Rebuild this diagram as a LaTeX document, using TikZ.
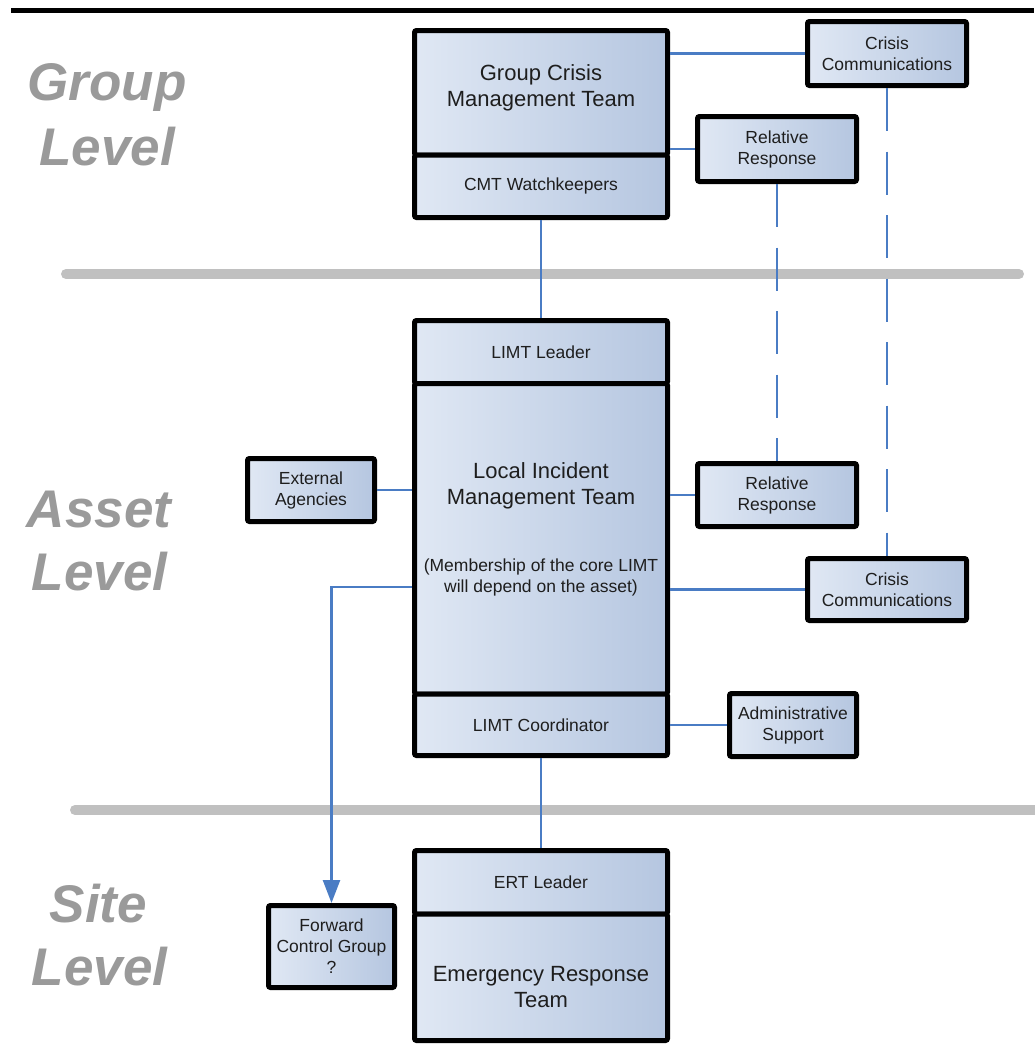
\documentclass[tikz,border=0pt]{standalone}
\usepackage{fontspec}
\setmainfont{Liberation Sans}
\usetikzlibrary{arrows.meta}
\definecolor{boxL}{HTML}{E0E8F4}
\definecolor{boxR}{HTML}{B5C6E0}
\definecolor{conncol}{HTML}{4A7CC4}
\definecolor{txtcol}{HTML}{1E1E1E}
\definecolor{levelcol}{HTML}{9A9A9A}
\definecolor{sepcol}{HTML}{C0C0C0}
\tikzset{
  box/.style={draw=black, line width=5pt, rounded corners=2pt,
    left color=boxL, right color=boxR, inner sep=0pt, align=center,
    text=txtcol, font=\fontsize{17.5}{21}\selectfont},
  bigtxt/.style={align=center, text=txtcol, inner sep=0pt, font=\fontsize{22}{26}\selectfont},
  smalltxt/.style={align=center, text=txtcol, inner sep=0pt, font=\fontsize{17.5}{21}\selectfont},
  conn/.style={draw=conncol, line width=2.5pt},
  dashconn/.style={conn, dash pattern=on 43pt off 20.5pt},
  levellabel/.style={anchor=base, text=levelcol, inner sep=0pt,
    font=\fontsize{53}{64}\selectfont\bfseries\itshape},
  sepline/.style={draw=sepcol, line width=10pt, line cap=round},
}
\begin{document}
\begin{tikzpicture}[x=1pt, y=-1pt]
\useasboundingbox (0,0) rectangle (1034,1050);

% top rule and level separators
\draw[line width=4.5pt] (11,10.5) -- (1034,10.5);
\draw[sepline] (66,274) -- (1019,274);
\draw[sepline] (75,810) -- (1040,810);

% level labels
\node[levellabel] (grp1) at (107,100) {Group};
\node[levellabel] (grp2) at (107,165) {Level};
\node[levellabel] (ast1) at (99,527) {Asset};
\node[levellabel] (ast2) at (99.5,590) {Level};
\node[levellabel] (site1) at (98.5,922) {Site};
\node[levellabel] (site2) at (99.5,985) {Level};

% group level
\node[box, minimum width=253pt, minimum height=124.5pt,
  label={[bigtxt, yshift=4.5pt]center:{Group Crisis\\Management Team}}] (gcmt) at (541,92.75) {};
\node[box, minimum width=253pt, minimum height=62.5pt] (cmtw) at (541,186.25) {CMT Watchkeepers};
\node[box, minimum width=159pt, minimum height=64pt] (cc1) at (887,53.5) {Crisis\\Communications};
\node[box, minimum width=159pt, minimum height=65pt] (rr1) at (777,149) {Relative\\Response};

% asset level
\node[box, minimum width=253pt, minimum height=63pt] (limtl) at (541,352) {LIMT Leader};
\node[box, minimum width=253pt, minimum height=310.5pt,
  label={[bigtxt, yshift=53pt]center:{Local Incident\\Management Team}},
  label={[smalltxt, yshift=-38.5pt]center:{(Membership of the core LIMT\\will depend on the asset)}}] (limt) at (541,538.75) {};
\node[box, minimum width=253pt, minimum height=61.5pt] (limtc) at (541,724.75) {LIMT Coordinator};
\node[box, minimum width=127pt, minimum height=63pt] (ea) at (311,490) {External\\Agencies};
\node[box, minimum width=159pt, minimum height=63pt] (rr2) at (777,495) {Relative\\Response};
\node[box, minimum width=159pt, minimum height=62pt] (cc2) at (887,589.5) {Crisis\\Communications};
\node[box, minimum width=127pt, minimum height=63pt] (as) at (793,725) {Administrative\\Support};

% site level
\node[box, minimum width=253pt, minimum height=63.5pt] (ertl) at (541,882.25) {ERT Leader};
\node[box, minimum width=253pt, minimum height=126.5pt,
  label={[bigtxt, yshift=-9.75pt]center:{Emergency Response\\Team}}] (ert) at (541,977.25) {};
\node[box, minimum width=126pt, minimum height=82pt] (fcg) at (331.5,946.5) {Forward\\Control Group\\?};

% connectors
\draw[conn] (cc1.west) -- (cc1.west -| gcmt.east);
\draw[conn] (rr1.west) -- (rr1.west -| gcmt.east);
\draw[conn] (cmtw.south) -- (limtl.north);
\draw[dashconn] (cc1.south) -- (cc2.north);
\draw[dashconn] (rr1.south) -- (rr2.north);
\draw[conn] (ea.east) -- (ea.east -| limt.west);
\draw[conn] (rr2.west) -- (rr2.west -| limt.east);
\draw[conn] (cc2.west) -- (cc2.west -| limt.east);
\draw[conn] (as.west) -- (as.west -| limtc.east);
\draw[conn] (limtc.south) -- (ertl.north);
\draw[conn, -{Triangle[length=23pt, width=17pt]}] ([yshift=-48.25pt]limt.west) -| (fcg.north);
\end{tikzpicture}
\end{document}
